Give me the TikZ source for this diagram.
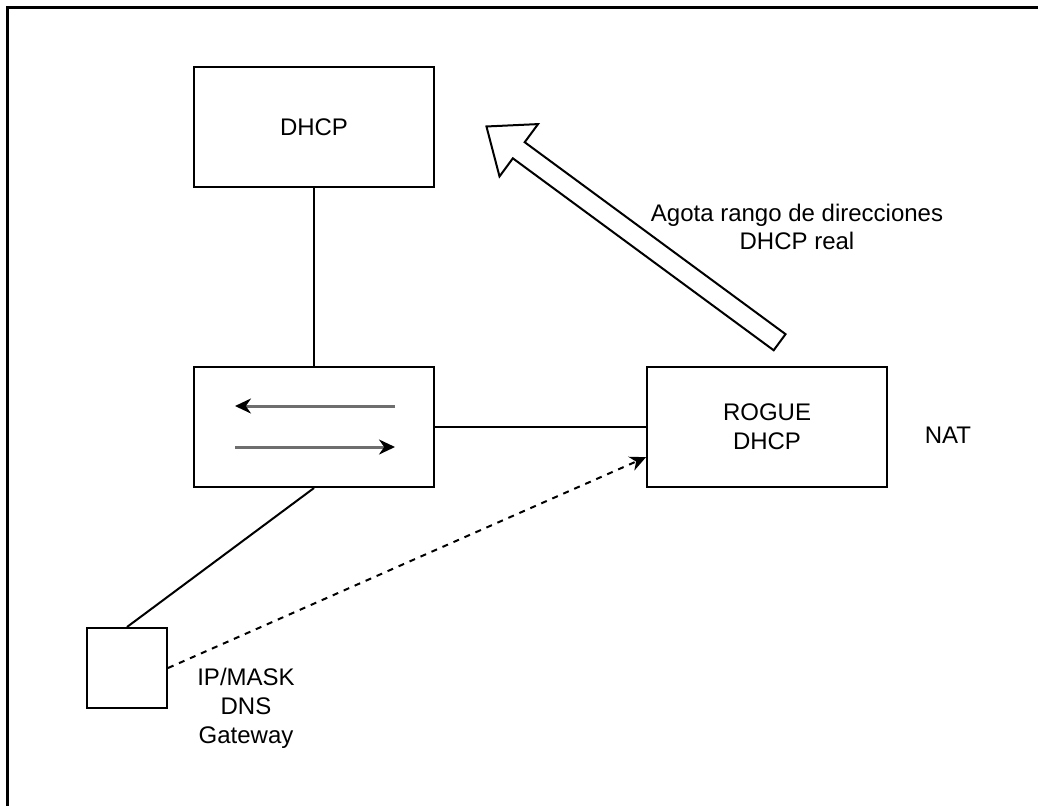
\documentclass[tikz,border=0pt]{standalone}
\usepackage{fontspec}
\setmainfont{Liberation Sans}
\usetikzlibrary{arrows.meta}
\usetikzlibrary{positioning}
\usetikzlibrary{shapes.arrows}
\definecolor{LineGray}{HTML}{6E6E6E}
\tikzset{
  box/.style={draw, line width=1pt, minimum width=120pt, minimum height=60pt, inner sep=0pt, align=center},
  txt/.style={align=center, inner sep=0pt},
  wire/.style={draw, line width=1pt},
  flow/.style={draw=LineGray, line width=1.5pt, -{Stealth[black, length=8pt, width=7.5pt]}},
  lease/.style={draw, line width=1pt, dash pattern=on 3pt off 3pt, -{Stealth[length=8pt, width=7.5pt]}}
}

\begin{document}
\begin{tikzpicture}[x=0.5pt, y=-0.5pt, every node/.style={font=\fontsize{12}{14.4}\selectfont}]
  \useasboundingbox (0,0) rectangle (1038,805);
  \draw[line width=1.5pt] (1040,7) -- (7,7) -- (7,807);

  \node[box] (dhcp)   at (314,127) {DHCP};
  \node[box] (switch) at (314,427) {};
  \node[box] (rogue)  at (767,427) {ROGUE\\DHCP};
  \node[box, minimum width=40pt, minimum height=40pt] (client) at (127,668) {};

  \node[txt] (nat)     at (948,435) {NAT};
  \node[txt] (config)  at (246,708) {IP/MASK\\DNS\\Gateway};
  \node[txt] (exhaust) at (797,227) {Agota rango de direcciones\\DHCP real};

  \draw[wire] (dhcp.south) -- (switch.north);
  \draw[wire] (switch.east) -- (rogue.west);
  \draw[wire] (switch.south) -- (client.north);

  \draw[flow] ([shift={(81,-21)}]switch.center) -- ([shift={(-79,-21)}]switch.center);
  \draw[flow] ([shift={(-79,20)}]switch.center) -- ([shift={(81,20)}]switch.center);

  \draw[lease] (client.east) -- (rogue.194);

  \node[draw, single arrow, line width=1pt, inner xsep=0pt, inner ysep=4.5pt,
        minimum height=182pt, minimum width=31.5pt,
        single arrow head extend=11.25pt, single arrow tip angle=78,
        rotate=143.65] (flood) at (638,238) {};
\end{tikzpicture}
\end{document}
